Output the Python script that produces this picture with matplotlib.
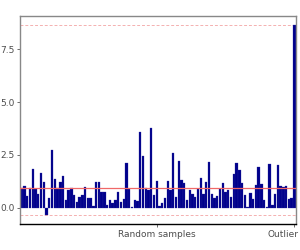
import numpy as np
import matplotlib
matplotlib.use("Agg")
import matplotlib.pyplot as plt
from matplotlib.transforms import ScaledTranslation

# === DATA ===
random_vals = [
    0.91, 1.00, 0.53, 0.94, 1.84, 0.90, 0.66, 1.62, 1.19, -0.33,
    0.44, 2.72, 1.34, 0.91, 1.19, 1.49, 0.36, 0.85, 0.93, 0.60,
    0.27, 0.50, 0.58, 0.96, 0.47, 0.47, 0.09, 1.19, 1.19, 0.72,
    0.72, 0.14, 0.35, 0.20, 0.38, 0.75, 0.27, 0.42, 2.10, 0.88,
    0.05, 0.35, 0.31, 3.58, 2.45, 0.91, 0.83, 3.79, 0.60, 1.24,
    0.09, 0.20, 0.44, 1.24, 0.82, 2.61, 0.50, 2.23, 1.29, 1.16,
    0.36, 0.85, 0.63, 0.50, 0.86, 1.41, 0.66, 1.19, 2.14, 0.66,
    0.44, 0.53, 0.88, 1.16, 0.75, 0.85, 0.50, 1.57, 2.09, 1.79,
    1.16, 0.61, 0.02, 0.69, 0.40, 1.05, 1.93, 1.12, 0.36, 0.05,
    2.08, 0.13, 0.63, 2.04, 1.02, 0.99, 1.04, 0.39, 0.46,
]
outlier_val = 8.63
values = random_vals + [outlier_val]
tick_labels = ["Random samples", "Outlier"]
yticks = [0.0, 2.5, 5.0, 7.5]

# === PLOT ===
fig = plt.figure(figsize=(3, 2.5), dpi=100)
ax = fig.add_axes([0.068, 0.104, 0.918, 0.832])

x = np.arange(len(values))
ax.bar(x, values, width=0.85, color="#00008B", edgecolor="#2a2aa0", linewidth=0.2, zorder=2)

# mean of the random samples, plus range markers
mean_rand = np.mean(random_vals)
ax.axhline(mean_rand, color="#f06868", lw=0.9, zorder=3)
ax.axhline(max(values), color="#f4b0b0", lw=0.7, ls=(0, (3, 2)), zorder=1)
ax.axhline(min(values), color="#f4b0b0", lw=0.7, ls=(0, (3, 2)), zorder=1)

lo, hi = min(values), max(values)
pad = 0.05 * (hi - lo)
ax.set_ylim(lo - pad, hi + pad)
ax.set_xlim(-0.5, len(values) - 0.5)

ax.set_yticks(yticks)
ax.set_yticklabels([f"{v:.1f}" for v in yticks])
ax.set_xticks([(len(random_vals) - 1) / 2, len(values) - 1])
ax.set_xticklabels(tick_labels)
ax.tick_params(axis="both", colors="#555555", labelcolor="#4d4d4d", labelsize=6.5,
               length=2.5, width=0.6, pad=1.5)

labs = ax.get_xticklabels()
labs[1].set_ha("right")
labs[1].set_transform(labs[1].get_transform() + ScaledTranslation(3 / 72, 0, fig.dpi_scale_trans))

for side in ["top", "left", "right"]:
    ax.spines[side].set_color("#888888")
    ax.spines[side].set_linewidth(1.0)
ax.spines["bottom"].set_color("black")
ax.spines["bottom"].set_linewidth(1.0)

fig.savefig("out.png", dpi=100)
